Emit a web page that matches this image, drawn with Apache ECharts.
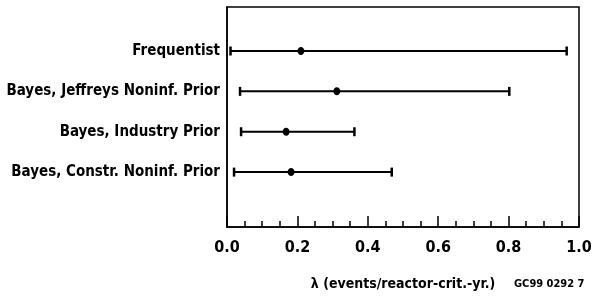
<!DOCTYPE html>
<html>
<head>
  <meta charset="utf-8">
  <title>lambda estimates</title>
  <script src="https://cdn.jsdelivr.net/npm/echarts@6/dist/echarts.min.js"></script>
  <style>
    html, body { margin: 0; padding: 0; background: #fff; }
    #main { width: 592px; height: 301px; }
  </style>
</head>
<body>
  <div id="main"></div>
  <script>
    // methods, top to bottom
    var methods = ['Frequentist', 'Bayes, Jeffreys Noninf. Prior', 'Bayes, Industry Prior', 'Bayes, Constr. Noninf. Prior'];
    // interval bounds and point estimate (events/reactor-crit.-yr.)
    var lower = [0.01, 0.037, 0.04, 0.02];
    var point = [0.21, 0.312, 0.168, 0.182];
    var upper = [0.965, 0.802, 0.362, 0.468];
    var xTicks = [0, 0.2, 0.4, 0.6, 0.8, 1.0];

    var font = "'DejaVu Sans Condensed', 'DejaVu Sans', sans-serif";

    var rows = methods.map(function (m, i) {
      return [i + 1, lower[i], point[i], upper[i]];
    });

    var myChart = echarts.init(document.getElementById('main'));

    var option = {
      animation: false,
      grid: {
        left: 227, right: 13, top: 7, bottom: 74,
        outerBoundsMode: 'none',
        containLabel: false,
        show: true, borderColor: '#000', borderWidth: 1.5, backgroundColor: 'transparent'
      },
      xAxis: {
        type: 'value',
        min: 0, max: 1, interval: 0.2,
        name: 'λ (events/reactor-crit.-yr.)',
        nameLocation: 'middle',
        nameGap: 50,
        nameTextStyle: { color: '#000', fontFamily: font, fontWeight: 'bold', fontSize: 14 },
        axisLine: { show: true, onZero: false, lineStyle: { color: '#000', width: 1.5 } },
        axisTick: { show: true, inside: true, length: 11, lineStyle: { color: '#000', width: 1.5 } },
        minorTick: { show: true, splitNumber: 4, length: 6, lineStyle: { color: '#000', width: 1.5 } },
        splitLine: { show: false },
        axisLabel: {
          margin: 13, color: '#000', fontFamily: font, fontWeight: 'bold', fontSize: 16,
          formatter: function (v) {
            var t = xTicks.filter(function (x) { return Math.abs(x - v) < 1e-6; });
            return t.length ? t[0].toFixed(1) : '';
          }
        }
      },
      yAxis: {
        type: 'value',
        min: -0.09, max: 5.36,
        inverse: true,
        axisLine: { show: true, onZero: false, lineStyle: { color: '#000', width: 1.5 } },
        axisTick: { show: false },
        splitLine: { show: false },
        axisLabel: {
          customValues: [1, 2, 3, 4],
          margin: 7, color: '#000', fontFamily: font, fontWeight: 'bold', fontSize: 15,
          formatter: function (v) { return methods[Math.round(v) - 1] || ''; }
        }
      },
      series: [{
        type: 'custom',
        data: rows,
        encode: { x: [1, 2, 3], y: 0 },
        renderItem: function (params, api) {
          var y = api.value(0);
          var a = api.coord([api.value(1), y]);
          var m = api.coord([api.value(2), y]);
          var b = api.coord([api.value(3), y]);
          var st = { stroke: '#000', lineWidth: 2 };
          return {
            type: 'group',
            children: [
              { type: 'line', shape: { x1: a[0], y1: a[1], x2: b[0], y2: b[1] }, style: st },
              { type: 'line', shape: { x1: a[0], y1: a[1] - 4.5, x2: a[0], y2: a[1] + 4.5 }, style: { stroke: '#000', lineWidth: 2.5 } },
              { type: 'line', shape: { x1: b[0], y1: b[1] - 4.5, x2: b[0], y2: b[1] + 4.5 }, style: { stroke: '#000', lineWidth: 2.5 } },
              { type: 'ellipse', shape: { cx: m[0], cy: m[1], rx: 3.5, ry: 4 }, style: { fill: '#000' } }
            ]
          };
        }
      }],
      graphic: [{
        type: 'text',
        left: 514, top: 279,
        style: { text: 'GC99 0292 7', fill: '#000', font: 'bold 11px ' + font }
      }]
    };

    myChart.setOption(option);
  </script>
</body>
</html>
